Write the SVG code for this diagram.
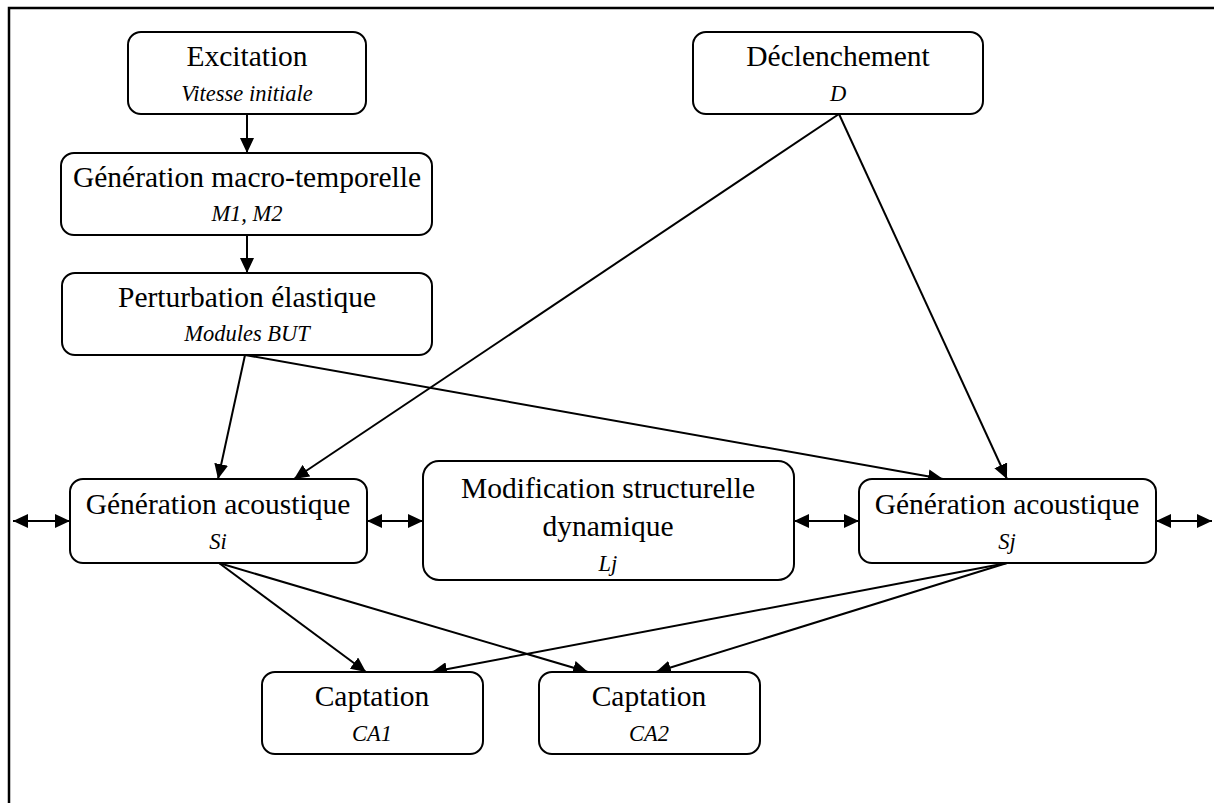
<svg xmlns="http://www.w3.org/2000/svg" width="1214" height="803" viewBox="0 0 1214 803">
<style>
.box{fill:#fff;stroke:#000;stroke-width:2}
.t{font-family:"Liberation Serif","Times New Roman",serif;font-size:29.5px;text-anchor:middle;fill:#000}
.s{font-family:"Liberation Serif","Times New Roman",serif;font-size:22.5px;font-style:italic;text-anchor:middle;fill:#000}
.c{stroke:#000;stroke-width:2;fill:none}
</style>
<defs>
<marker id="ah" markerUnits="userSpaceOnUse" markerWidth="16" markerHeight="14" refX="15" refY="7" orient="auto">
<path d="M0,0 L15,7 L0,14 Z" fill="#000"/>
</marker>
<marker id="as" markerUnits="userSpaceOnUse" markerWidth="16" markerHeight="14" refX="0" refY="7" orient="auto">
<path d="M15,0 L0,7 L15,14 Z" fill="#000"/>
</marker>
</defs>
<rect x="0" y="0" width="1214" height="803" fill="#fff"/>
<path d="M9,803 V8 H1214" fill="none" stroke="#000" stroke-width="2.5"/>
<g id="connectors">
<line class="c" x1="247" y1="114" x2="247" y2="153" marker-end="url(#ah)"/>
<line class="c" x1="247" y1="235" x2="247" y2="273" marker-end="url(#ah)"/>
<line class="c" x1="245" y1="355" x2="218" y2="479" marker-end="url(#ah)"/>
<line class="c" x1="245" y1="355" x2="943" y2="479" marker-end="url(#ah)"/>
<line class="c" x1="839" y1="114" x2="294" y2="479" marker-end="url(#ah)"/>
<line class="c" x1="839" y1="114" x2="1007" y2="479" marker-end="url(#ah)"/>
<line class="c" x1="219" y1="563" x2="366" y2="672" marker-end="url(#ah)"/>
<line class="c" x1="219" y1="563" x2="588" y2="672" marker-end="url(#ah)"/>
<line class="c" x1="1007" y1="563" x2="432" y2="672" marker-end="url(#ah)"/>
<line class="c" x1="1007" y1="563" x2="656" y2="672" marker-end="url(#ah)"/>
<line class="c" x1="13" y1="521" x2="70" y2="521" marker-start="url(#as)" marker-end="url(#ah)"/>
<line class="c" x1="367" y1="521" x2="423" y2="521" marker-start="url(#as)" marker-end="url(#ah)"/>
<line class="c" x1="794" y1="521" x2="859" y2="521" marker-start="url(#as)" marker-end="url(#ah)"/>
<line class="c" x1="1156" y1="521" x2="1212" y2="521" marker-start="url(#as)" marker-end="url(#ah)"/>
</g>
<g id="excitation">
<rect class="box" x="128" y="32" width="238" height="82" rx="13"/>
<text class="t" x="247" y="66">Excitation</text>
<text class="s" x="247" y="101">Vitesse initiale</text>
</g>
<g id="macro">
<rect class="box" x="61" y="153" width="371" height="82" rx="13"/>
<text class="t" x="247" y="187">Génération macro-temporelle</text>
<text class="s" x="247" y="221">M1, M2</text>
</g>
<g id="perturbation">
<rect class="box" x="62" y="273" width="370" height="82" rx="13"/>
<text class="t" x="247" y="307">Perturbation élastique</text>
<text class="s" x="247" y="341">Modules BUT</text>
</g>
<g id="declenchement">
<rect class="box" x="693" y="32" width="290" height="82" rx="13"/>
<text class="t" x="838" y="66">Déclenchement</text>
<text class="s" x="838" y="101">D</text>
</g>
<g id="gen-si">
<rect class="box" x="70" y="479" width="297" height="84" rx="13"/>
<text class="t" x="218" y="514">Génération acoustique</text>
<text class="s" x="218" y="549">Si</text>
</g>
<g id="modification">
<rect class="box" x="423" y="461" width="371" height="119" rx="16"/>
<text class="t" x="608" y="498">Modification structurelle</text>
<text class="t" x="608" y="536">dynamique</text>
<text class="s" x="608" y="571">Lj</text>
</g>
<g id="gen-sj">
<rect class="box" x="859" y="479" width="297" height="84" rx="13"/>
<text class="t" x="1007" y="514">Génération acoustique</text>
<text class="s" x="1007" y="549">Sj</text>
</g>
<g id="ca1">
<rect class="box" x="262" y="672" width="221" height="82" rx="13"/>
<text class="t" x="372" y="706">Captation</text>
<text class="s" x="372" y="741">CA1</text>
</g>
<g id="ca2">
<rect class="box" x="539" y="672" width="221" height="82" rx="13"/>
<text class="t" x="649" y="706">Captation</text>
<text class="s" x="649" y="741">CA2</text>
</g>
</svg>
